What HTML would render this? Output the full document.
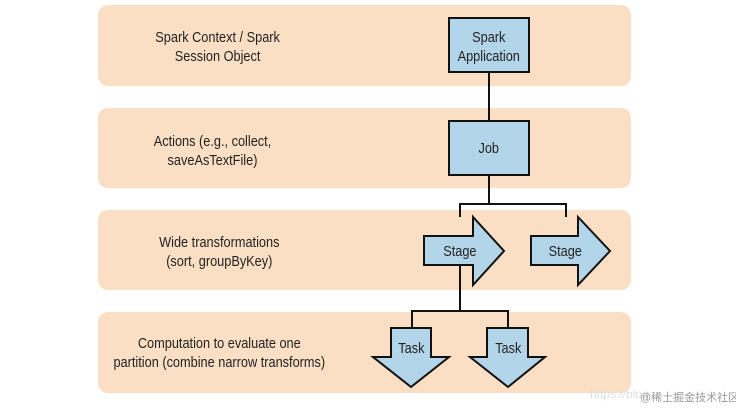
<!DOCTYPE html>
<html><head><style>
body{margin:0;background:#fff;}
svg text{font-family:"Liberation Sans",sans-serif;font-size:15px;fill:#222;}
</style></head><body>
<svg width="736" height="408" xmlns="http://www.w3.org/2000/svg">
<g fill="#fbdfc4">
<rect x="98" y="5" width="533" height="81" rx="10"/>
<rect x="98" y="108" width="533" height="80" rx="10"/>
<rect x="98" y="210" width="533" height="80" rx="10"/>
<rect x="98" y="312" width="533" height="81" rx="10"/>
</g>
<g text-anchor="middle" transform="scale(0.85,1)">
<text x="256" y="42">Spark Context / Spark</text>
<text x="256" y="61">Session Object</text>
<text x="250" y="146">Actions (e.g., collect,</text>
<text x="250" y="165">saveAsTextFile)</text>
<text x="258" y="247">Wide transformations</text>
<text x="258" y="266">(sort, groupByKey)</text>
<text x="258" y="348">Computation to evaluate one</text>
<text x="258" y="367">partition (combine narrow transforms)</text>
</g>
<g stroke="#111" stroke-width="2" fill="none">
<line x1="489" y1="72" x2="489" y2="121"/>
<line x1="489" y1="175" x2="489" y2="204"/>
<polyline points="460,217 460,204 566,204 566,217"/>
<polyline points="460,265 460,311"/>
<polyline points="412,328 412,311 508,311 508,328"/>
</g>
<g fill="#b3d5ea" stroke="#111" stroke-width="2">
<rect x="449" y="18" width="80" height="54"/>
<rect x="449" y="121" width="80" height="54"/>
<polygon points="424,236 473,236 473,217 504,251 473,285 473,265 424,265"/>
<polygon points="531,236 578,236 578,217 610,251 578,285 578,265 531,265"/>
<polygon points="391,328 431,328 431,357 449,357 411,387 373,357 391,357"/>
<polygon points="487,328 528,328 528,357 545,357 508,387 470,357 487,357"/>
</g>
<g text-anchor="middle" transform="scale(0.85,1)">
<text x="575" y="42">Spark</text>
<text x="575" y="61">Application</text>
<text x="575" y="153">Job</text>
<text x="541" y="256">Stage</text>
<text x="665" y="256">Stage</text>
<text x="484" y="353">Task</text>
<text x="598" y="353">Task</text>
</g>
<text x="590" y="398" style="font-size:12px;fill:#ddd">https://blog</text>
<text x="640" y="401" style="font-size:11px;fill:#999;font-family:'Liberation Sans','Noto Sans CJK SC',sans-serif">@稀土掘金技术社区</text>
</svg>
</body></html>
